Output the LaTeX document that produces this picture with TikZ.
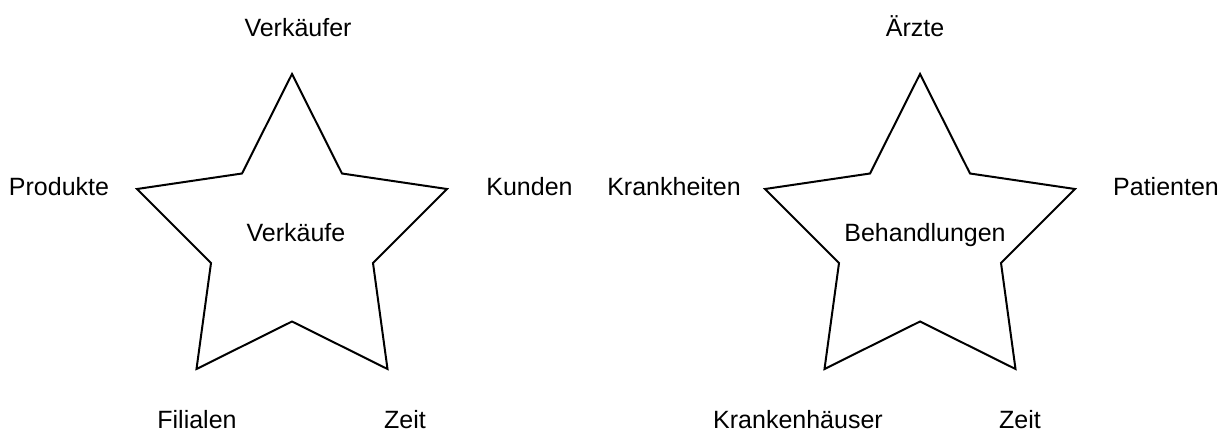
\documentclass[tikz,border=0pt]{standalone}
\usepackage{fontspec}
\setmainfont{Liberation Sans}
\usepackage{tikz}
\tikzstyle{starline} = [draw=black, line width=0.8pt, line join=miter]
\tikzstyle{dimlabel} = [anchor=base, inner sep=0pt, font=\fontsize{10}{12}\selectfont]

\begin{document}
\begin{tikzpicture}[x=0.4pt, y=-0.4pt]
                \useasboundingbox (0,0) rectangle (1230,432);
                \foreach \sx in {292,920}
                    \draw[starline, shift={(\sx,74)}] (0,0) -- (-50,99.5) -- (-155,115) -- (-81,189)
                        -- (-95.5,295) -- (0,247.5) -- (95.5,295) -- (81,189)
                        -- (155,115) -- (50,99.5) -- cycle;
                \node[dimlabel] (verkaeufe) at (296,242) {Verkäufe};
                \node[dimlabel] (verkaeufer) at (298,37) {Verkäufer};
                \node[dimlabel] (produkte) at (59,196) {Produkte};
                \node[dimlabel] (kunden) at (529.5,196) {Kunden};
                \node[dimlabel] (filialen) at (197,428) {Filialen};
                \node[dimlabel] (zeitA) at (405,428) {Zeit};
                \node[dimlabel] (behandlungen) at (925,242) {Behandlungen};
                \node[dimlabel] (aerzte) at (915,37) {Ärzte};
                \node[dimlabel] (krankheiten) at (674,196) {Krankheiten};
                \node[dimlabel] (patienten) at (1166,196) {Patienten};
                \node[dimlabel] (krankenhaeuser) at (798,428) {Krankenhäuser};
                \node[dimlabel] (zeitB) at (1020,428) {Zeit};
            \end{tikzpicture}
\end{document}
